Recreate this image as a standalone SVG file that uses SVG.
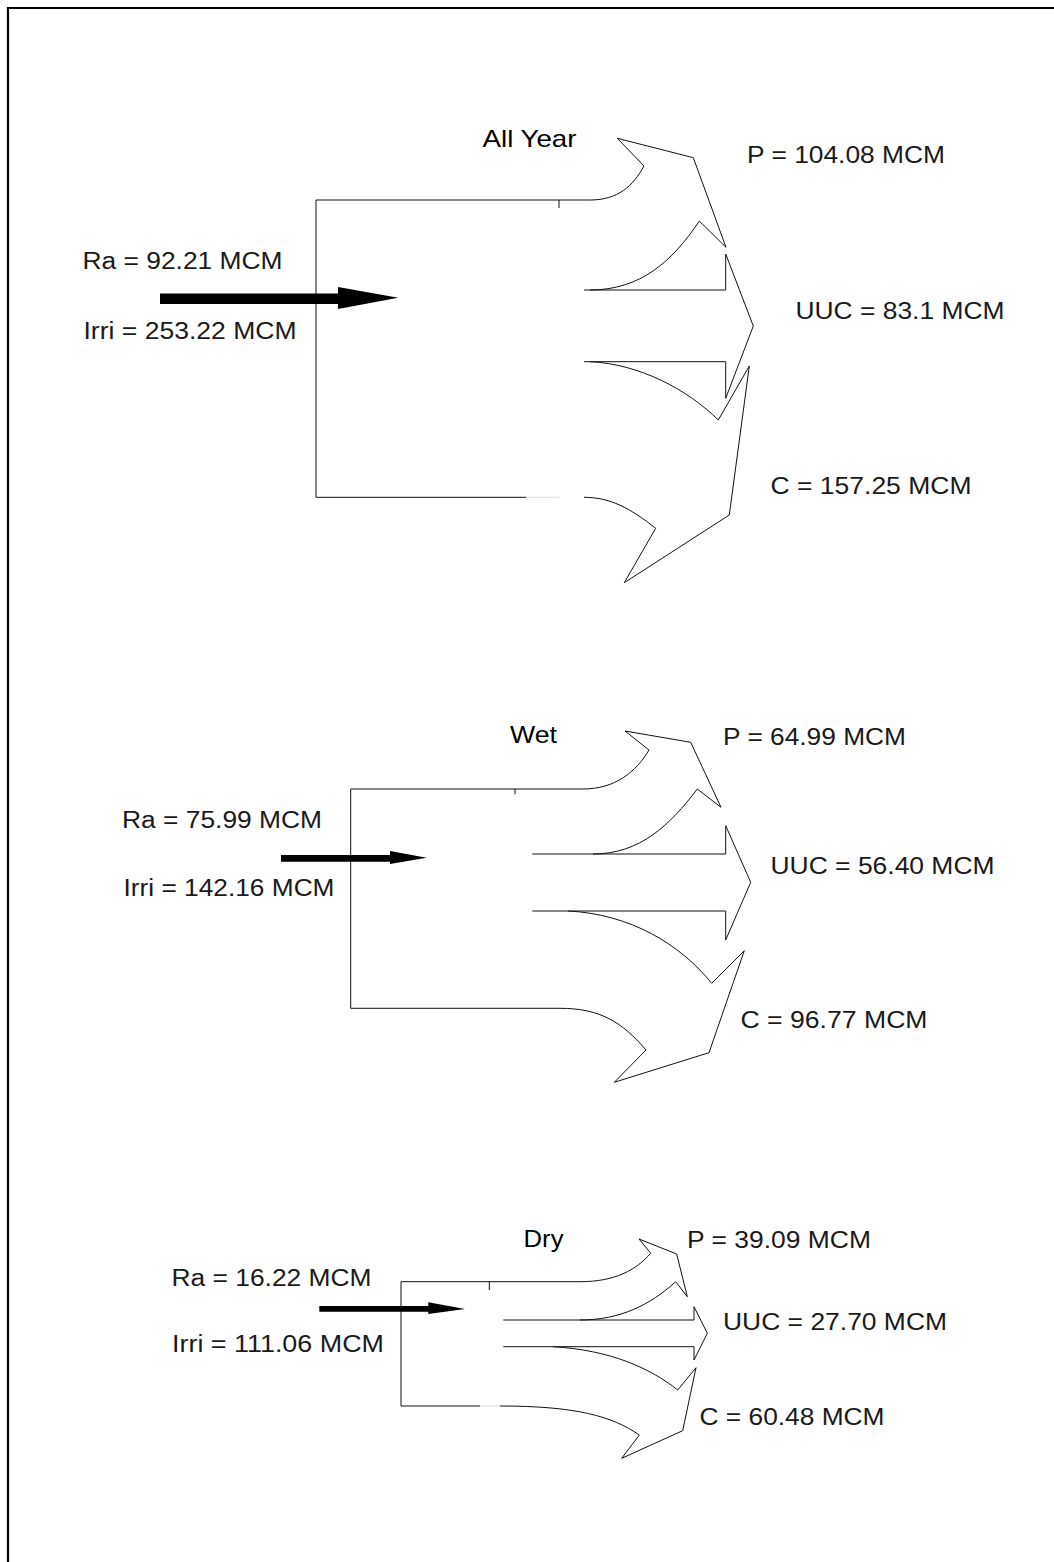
<svg xmlns="http://www.w3.org/2000/svg" width="1054" height="1562" viewBox="0 0 1054 1562">
<style>
.ln{fill:none;stroke:#111;stroke-width:1;stroke-linejoin:miter}
.lt{fill:none;stroke:#ddd;stroke-width:1}
.bd{fill:none;stroke:#000;stroke-width:2.2}
.lb{font-family:"Liberation Sans",Arial,sans-serif;font-size:23px;fill:#1a1a1a}
.tt{font-family:"Liberation Sans",Arial,sans-serif;font-size:24px;fill:#000}
.ar{fill:#000;stroke:none}
</style>
<rect width="1054" height="1562" fill="#fff"/>
<path class="bd" d="M8,1562 V8 H1054"/>

<!-- ALL YEAR -->
<g id="allyear">
  <g id="ay-box">
    <path class="ln" d="M590,200 H316 V497.3 H526"/>
    <path class="lt" d="M526,497.3 H559"/>
    <path class="ln" d="M559,200 V208"/>
  </g>
  <g id="ay-p-arrow"><path class="ln" d="M590,200 C618,200 633,186 644,166 L617.3,138.3 L693.3,157.7 L726,247.3 L699.3,221 C672,262 640,290 590,290"/></g>
  <g id="ay-uuc-arrow"><path class="ln" d="M584,290 H725.7 V254 L753.3,326 L725.7,398.3 V361.7 H584"/></g>
  <g id="ay-c-arrow"><path class="ln" d="M590,361.7 C640,364 688,390 718.3,420 L749.3,366 L729.3,515 L624.3,582.7 L655.7,528.3 C630,508 610,497.3 584,497.3"/></g>
  <text id="ay-title" class="tt" x="482.5" y="146.7" textLength="94" lengthAdjust="spacingAndGlyphs">All Year</text>
  <text id="ay-p" class="lb" x="747" y="163.3" textLength="198" lengthAdjust="spacingAndGlyphs">P = 104.08 MCM</text>
  <text id="ay-uuc" class="lb" x="795.5" y="319.3" textLength="209" lengthAdjust="spacingAndGlyphs">UUC = 83.1 MCM</text>
  <text id="ay-c" class="lb" x="770.5" y="494" textLength="201" lengthAdjust="spacingAndGlyphs">C = 157.25 MCM</text>
  <text id="ay-ra" class="lb" x="82.5" y="269" textLength="200" lengthAdjust="spacingAndGlyphs">Ra = 92.21 MCM</text>
  <text id="ay-irri" class="lb" x="83.5" y="339.3" textLength="213" lengthAdjust="spacingAndGlyphs">Irri = 253.22 MCM</text>
</g>

<!-- WET -->
<g id="wet">
  <g id="wet-box">
    <path class="ln" d="M583,789 H350.7 V1008.3 H560"/>
    <path class="ln" d="M515,789 V794.3"/>
  </g>
  <g id="wet-p-arrow"><path class="ln" d="M583,789 C615,789 636,772 649,750 L625,731 L690.7,742.3 L721,807.3 L697.3,789 C670,825 640,854 593,854"/></g>
  <g id="wet-uuc-arrow"><path class="ln" d="M532.3,854 H725.7 V825.7 L750.7,882.3 L725.7,940 V911 H532.3"/></g>
  <g id="wet-c-arrow"><path class="ln" d="M568,911 C630,914 680,944 711.7,983.3 L744.3,950.7 L709,1052.7 L614.3,1082.3 L646,1050 C622,1022 600,1008.3 560,1008.3"/></g>
  <text id="wet-title" class="tt" x="510" y="742.7" textLength="47" lengthAdjust="spacingAndGlyphs">Wet</text>
  <text id="wet-p" class="lb" x="723" y="745.4" textLength="183" lengthAdjust="spacingAndGlyphs">P = 64.99 MCM</text>
  <text id="wet-uuc" class="lb" x="770.5" y="873.5" textLength="224" lengthAdjust="spacingAndGlyphs">UUC = 56.40 MCM</text>
  <text id="wet-c" class="lb" x="740.5" y="1028" textLength="187" lengthAdjust="spacingAndGlyphs">C = 96.77 MCM</text>
  <text id="wet-ra" class="lb" x="122" y="828.3" textLength="200" lengthAdjust="spacingAndGlyphs">Ra = 75.99 MCM</text>
  <text id="wet-irri" class="lb" x="123.5" y="896" textLength="211" lengthAdjust="spacingAndGlyphs">Irri = 142.16 MCM</text>
</g>

<!-- DRY -->
<g id="dry">
  <g id="dry-box">
    <path class="ln" d="M580,1281.7 H401 V1406 H480"/>
    <path class="lt" d="M480,1406 H500"/>
    <path class="ln" d="M489.3,1281.7 V1290"/>
  </g>
  <g id="dry-p-arrow"><path class="ln" d="M580,1281.7 C615,1281.7 636,1270 650.7,1253.3 L639,1239 L676.7,1254 L687.3,1296.7 L675.7,1281.7 C650,1305 620,1320 580,1320"/></g>
  <g id="dry-uuc-arrow"><path class="ln" d="M503.3,1320 H694 V1306.7 L707.3,1333.3 L694,1360 V1346.7 H503.3"/></g>
  <g id="dry-c-arrow"><path class="ln" d="M553,1346.7 C610,1350 650,1368 677.7,1390 L696,1367.7 L682.7,1430.7 L621.7,1458.3 L639.3,1435 C612,1416 575,1406 500,1406"/></g>
  <text id="dry-title" class="tt" x="523.5" y="1247.3" textLength="40" lengthAdjust="spacingAndGlyphs">Dry</text>
  <text id="dry-p" class="lb" x="687" y="1247.9" textLength="184" lengthAdjust="spacingAndGlyphs">P = 39.09 MCM</text>
  <text id="dry-uuc" class="lb" x="723" y="1329.5" textLength="224" lengthAdjust="spacingAndGlyphs">UUC = 27.70 MCM</text>
  <text id="dry-c" class="lb" x="699.5" y="1425.4" textLength="185" lengthAdjust="spacingAndGlyphs">C = 60.48 MCM</text>
  <text id="dry-ra" class="lb" x="171.5" y="1286" textLength="200" lengthAdjust="spacingAndGlyphs">Ra = 16.22 MCM</text>
  <text id="dry-irri" class="lb" x="172" y="1351.7" textLength="212" lengthAdjust="spacingAndGlyphs">Irri = 111.06 MCM</text>
</g>

<g id="connectors">
  <polygon class="ar" points="160,293.5 338,293.5 338,287 398.3,297.7 338,309 338,304 160,304"/>
  <polygon class="ar" points="281,855 390,855 390,851 426.7,857.7 390,864 390,861.7 281,861.7"/>
  <polygon class="ar" points="319.3,1306 428.3,1306 428.3,1302.3 465,1309 428.3,1314 428.3,1311.7 319.3,1311.7"/>
</g>
</svg>
